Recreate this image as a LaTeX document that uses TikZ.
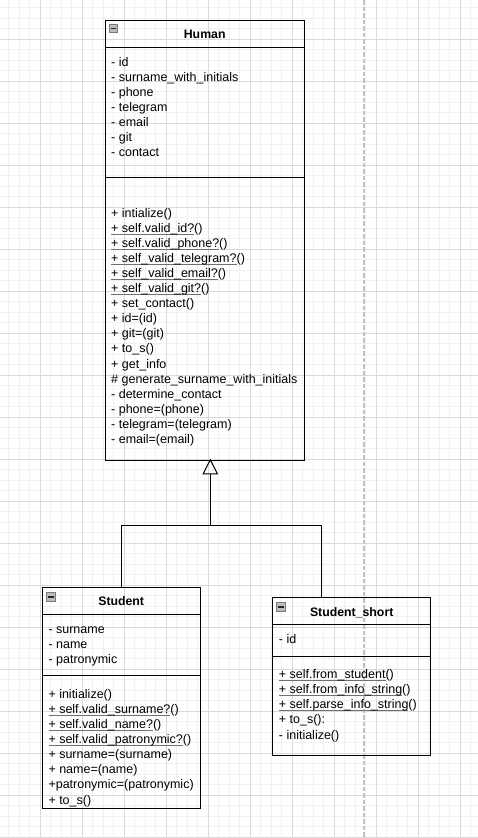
\documentclass[tikz,border=0pt]{standalone}
\usepackage{fontspec}
\setmainfont{Liberation Sans}
\usetikzlibrary{arrows.meta}

\definecolor{gridminor}{HTML}{F1F1F1}
\definecolor{gridmajor}{HTML}{DADADA}
\definecolor{guideline}{HTML}{C2C2C2}
\definecolor{ulgray}{HTML}{707070}
\definecolor{iconfill}{HTML}{BDBDBD}
\definecolor{iconedge}{HTML}{7A7A7A}

% static member: first argument underlined, second (the parentheses) not
\newcommand{\statm}[2]{\setbox0\hbox{#1}\rlap{\textcolor{ulgray}{\rule[-2.3pt]{\wd0}{0.9pt}}}\box0#2}

\begin{document}
\begin{tikzpicture}[x=1pt,y=-1pt,
  txt/.style={anchor=base west, inner sep=0pt, font=\fontsize{12.5}{15}\selectfont},
  ttl/.style={anchor=base, inner sep=0pt, font=\fontsize{12.3}{15}\selectfont\bfseries},
  umlbox/.style={draw=black, line width=1pt, inner sep=0pt, outer sep=0pt, anchor=north west},
  part/.style={draw=black, line width=1pt},
  conn/.style={draw=black, line width=1pt},
  icon/.style={fill=iconfill, draw=iconedge, line width=0.8pt},
  iconbar/.style={draw=black!85, line width=1.2pt},
  minorline/.style={draw=gridminor, line width=1pt},
  majorline/.style={draw=gridmajor, line width=1pt},
  guide/.style={draw=guideline, line width=1.5pt, dash pattern=on 4.5pt off 2pt}]

\useasboundingbox (0,0) rectangle (478,838);
\clip (0,0) rectangle (478,838);
\fill[white] (0,0) rectangle (478,838);

% background grid
\foreach \i in {0,...,45} {
  \pgfmathsetmacro\gx{-2+10.5*\i}
  \draw[minorline] (\gx,0) -- (\gx,838);
}
\foreach \j in {0,...,80} {
  \pgfmathsetmacro\gy{-2.7+10.5*\j}
  \draw[minorline] (0,\gy) -- (478,\gy);
}
\foreach \i in {0,...,11} {
  \pgfmathsetmacro\gx{-2+42*\i}
  \draw[majorline] (\gx,0) -- (\gx,838);
}
\foreach \j in {0,...,20} {
  \pgfmathsetmacro\gy{-2.7+42*\j}
  \draw[majorline] (0,\gy) -- (478,\gy);
}

% page break guide
\draw[guide] (364,0) -- (364,838);

% ---------------- Human ----------------
\node[umlbox, minimum width=199.3pt, minimum height=440pt] (human) at (105,20.7) {};
\draw[part] (human.west |- 0,47.3) -- (human.east |- 0,47.3);
\draw[part] (human.west |- 0,177.3) -- (human.east |- 0,177.3);
\draw[icon] ([shift={(4,3.4)}]human.north west) rectangle ++(8.5,8.5);
\draw[iconbar] ([shift={(5.6,7.65)}]human.north west) -- ++(5.3,0);
\node[ttl] (humantitle) at (204.7,38) {Human};

\foreach \t [count=\i] in {- id, - surname\_with\_initials, - phone, - telegram,
    - email, - git, - contact}
  \node[txt] (ha\i) at (111,{66+15*(\i-1)}) {\t};

\foreach \t [count=\i] in {+ intialize(),
    \statm{+ self.valid\_id?}{()},
    \statm{+ self.valid\_phone?}{()},
    \statm{+ self\_valid\_telegram?}{()},
    \statm{+ self\_valid\_email?}{()},
    \statm{+ self\_valid\_git?}{()},
    + set\_contact(), + id=(id), + git=(git), + to\_s(), + get\_info,
    \# generate\_surname\_with\_initials,
    - determine\_contact, - phone=(phone), - telegram=(telegram), - email=(email)}
  \node[txt] (hm\i) at (111,{217+15.1*(\i-1)}) {\t};

% ---------------- Student ----------------
\node[umlbox, minimum width=157.7pt, minimum height=220.7pt] (student) at (42.3,587.3) {};
\draw[part] (student.west |- 0,614) -- (student.east |- 0,614);
\draw[part] (student.west |- 0,675.3) -- (student.east |- 0,675.3);
\draw[icon] ([shift={(4.4,5.4)}]student.north west) rectangle ++(8.5,8.5);
\draw[iconbar] ([shift={(6,9.65)}]student.north west) -- ++(5.3,0);
\node[ttl] (studenttitle) at (121.2,605.3) {Student};

\foreach \t [count=\i] in {- surname, - name, - patronymic}
  \node[txt] (sa\i) at (48.3,{633.3+15*(\i-1)}) {\t};

\foreach \t [count=\i] in {+ initialize(),
    \statm{+ self.valid\_surname?}{()},
    \statm{+ self.valid\_name?}{()},
    \statm{+ self.valid\_patronymic?}{()},
    + surname=(surname), + name=(name), +patronymic=(patronymic), + to\_s()}
  \node[txt] (sm\i) at (48.3,{698.3+15.1*(\i-1)}) {\t};

% ---------------- Student_short ----------------
\node[umlbox, minimum width=158pt, minimum height=157.7pt] (short) at (272.7,597.3) {};
\draw[part] (short.west |- 0,624.3) -- (short.east |- 0,624.3);
\draw[part] (short.west |- 0,656) -- (short.east |- 0,656);
\draw[icon] ([shift={(4,5.4)}]short.north west) rectangle ++(8.5,8.5);
\draw[iconbar] ([shift={(5.6,9.65)}]short.north west) -- ++(5.3,0);
\node[ttl] (shorttitle) at (351.7,616) {Student\_short};

\node[txt] (ssa1) at (278.7,643.3) {- id};

\foreach \t [count=\i] in {\statm{+ self.from\_student}{()},
    \statm{+ self.from\_info\_string}{()},
    \statm{+ self.parse\_info\_string}{()},
    + to\_s():, - initialize()}
  \node[txt] (ssm\i) at (278.7,{678.6+15.1*(\i-1)}) {\t};

% ---------------- generalisation ----------------
\coordinate (junc) at (210.3,525.7);
\draw[conn] (student.north) |- (junc);
\draw[conn] (short.north -| 321,0) |- (junc);
\draw[conn, shorten >=-2pt,
  -{Triangle[open, width=15.6pt, length=15.6pt, line width=1pt]}]
  (junc) -- (junc |- human.south);

\end{tikzpicture}
\end{document}
